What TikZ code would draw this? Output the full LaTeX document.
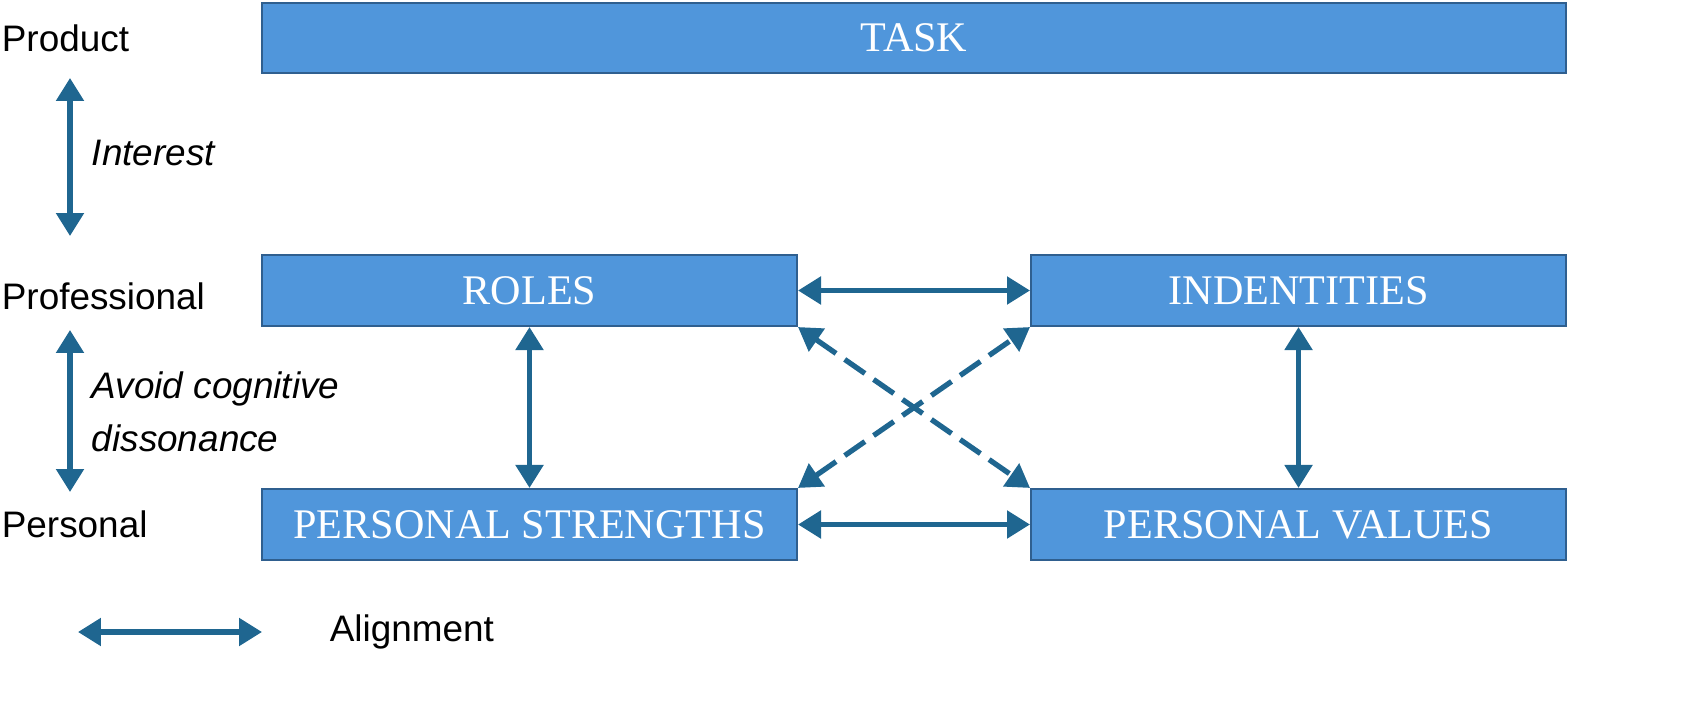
\documentclass[tikz,border=0pt]{standalone}
\usepackage{fontspec}
\setmainfont{Liberation Serif}
\setsansfont{Liberation Sans}
\usepackage{tikz}
\usetikzlibrary{arrows.meta,positioning}
\definecolor{boxblue}{HTML}{5096DB}
\definecolor{boxedge}{HTML}{2F5F8F}
\definecolor{linkteal}{HTML}{1F6690}

\tikzset{
    blockbox/.style={draw=boxedge, line width=1.2pt, fill=boxblue, text=white,
        font=\fontsize{24}{28}\selectfont, inner sep=0pt},
    levellabel/.style={font=\sffamily\fontsize{21}{25}\selectfont, anchor=west, inner sep=2pt},
    alignlink/.style={{Triangle[length=4.6mm,width=5.4mm]}-{Triangle[length=4.6mm,width=5.4mm]},
        line width=3pt, linkteal}
}

\begin{document}
\begin{tikzpicture}[x=0.02cm, y=-0.02cm]
    \useasboundingbox (0,0) rectangle (1682,702);

    % Boxes
    \node[blockbox, minimum width=26.08cm, minimum height=1.4cm] (task) at (914,38) {TASK};
    \node[blockbox, minimum width=10.7cm, minimum height=1.42cm] (roles) at (529.5,290.5) {ROLES};
    \node[blockbox, minimum width=10.7cm, minimum height=1.42cm] (ident) at (1298.5,290.5) {INDENTITIES};
    \node[blockbox, minimum width=10.7cm, minimum height=1.42cm] (strength) at (529.5,524.5) {PERSONAL STRENGTHS};
    \node[blockbox, minimum width=10.7cm, minimum height=1.42cm] (values) at (1298.5,524.5) {PERSONAL VALUES};

    % Level labels
    \node[levellabel] (product) at (-2,38) {Product};
    \node[levellabel] (profess) at (-2,296) {Professional};
    \node[levellabel] (personal) at (-2,524) {Personal};

    % Level arrows
    \coordinate (i1) at (70,78);
    \coordinate (i2) at (70,236);
    \coordinate (c1) at (70,330);
    \coordinate (c2) at (70,492);
    \draw[alignlink] (i1) -- (i2);
    \draw[alignlink] (c1) -- (c2);
    \node[levellabel, font=\sffamily\itshape\fontsize{21}{25}\selectfont] (interest) at (88,153) {Interest};
    \node[levellabel, font=\sffamily\itshape\fontsize{21}{30}\selectfont, align=left] (avoid) at (88,412) {Avoid cognitive\\dissonance};

    % Alignment links
    \draw[alignlink] (roles.east) -- (ident.west);
    \draw[alignlink] (strength.east) -- (values.west);
    \draw[alignlink] (roles.south) -- (strength.north);
    \draw[alignlink] (ident.south) -- (values.north);
    \draw[alignlink, dashed, dash pattern=on 14pt off 6pt] (roles.south east) -- (values.north west);
    \draw[alignlink, dashed, dash pattern=on 14pt off 6pt] (strength.north east) -- (ident.south west);

    % Legend
    \coordinate (l1) at (78,632);
    \coordinate (l2) at (262,632);
    \draw[alignlink] (l1) -- (l2);
    \node[levellabel] (legend) at (326,632) {Alignment};
\end{tikzpicture}
\end{document}
